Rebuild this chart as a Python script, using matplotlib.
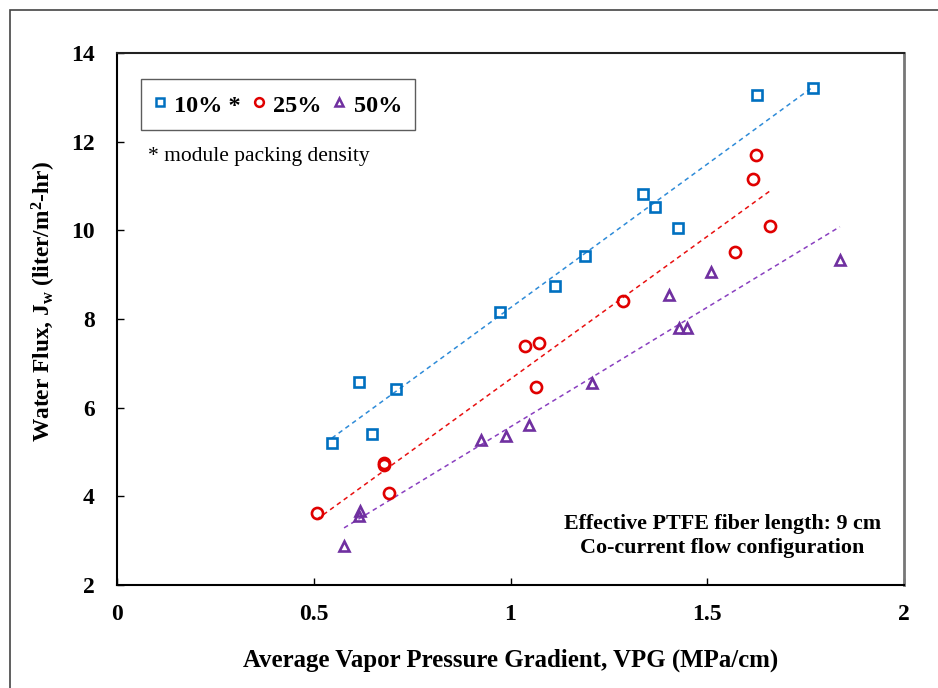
import numpy as np
import matplotlib
matplotlib.use("Agg")
import matplotlib.pyplot as plt
from matplotlib.patches import Rectangle
from matplotlib.lines import Line2D

plt.rcParams['font.family'] = ['Liberation Serif', 'DejaVu Serif']
plt.rcParams['mathtext.fontset'] = 'custom'
plt.rcParams['mathtext.rm'] = 'Liberation Serif'
plt.rcParams['mathtext.bf'] = 'Liberation Serif:bold'
plt.rcParams['mathtext.it'] = 'Liberation Serif:italic'

# ---- data ----
x10 = [0.546, 0.615, 0.648, 0.709, 0.973, 1.113, 1.189, 1.337, 1.367, 1.426, 1.626, 1.769]
y10 = [5.20, 6.58, 5.41, 6.42, 8.16, 8.74, 9.42, 10.82, 10.53, 10.05, 13.05, 13.21]

x25 = [0.507, 0.679, 0.679, 0.691, 1.037, 1.072, 1.065, 1.287, 1.571, 1.659, 1.615, 1.623]
y25 = [3.62, 4.75, 4.70, 4.07, 7.39, 7.45, 6.47, 8.41, 9.51, 10.10, 11.15, 11.69]

x50 = [0.577, 0.618, 0.614, 0.924, 0.988, 1.047, 1.208, 1.403, 1.427, 1.449, 1.509, 1.837]
y50 = [2.88, 3.67, 3.56, 5.27, 5.36, 5.62, 6.56, 8.54, 7.79, 7.80, 9.07, 9.33]

labels = ['10% *', '25%', '50%']
xticks = [0, 0.5, 1, 1.5, 2]
xtick_labels = ['0', '0.5', '1', '1.5', '2']
yticks = [2, 4, 6, 8, 10, 12, 14]

colors = ['#0070C0', '#E00000', '#7030A0']
markers = ['s', 'o', '^']
msizes = [7.6, 8.0, 6.8]
line_colors = ['#2E8BD8', '#E81010', '#8A40C0']

fig = plt.figure(figsize=(9.38, 6.88), dpi=100)
ax = fig.add_axes([117/938, 1-585/688, (904-117)/938, (585-53)/688])

series = [(x10, y10), (x25, y25), (x50, y50)]
for (xs, ys), c, m, ms, lc in zip(series, colors, markers, msizes, line_colors):
    xs = np.array(xs); ys = np.array(ys)
    ax.plot(xs, ys, linestyle='none', marker=m, markersize=ms,
            markerfacecolor='none', markeredgecolor=c, markeredgewidth=1.9, zorder=3)
    k, b = np.polyfit(xs, ys, 1)
    xl = np.array([xs.min(), xs.max()])
    ax.plot(xl, k*xl + b, linestyle=(0, (3, 2.5)), color=lc, linewidth=1.1, zorder=2)

ax.set_xlim(0, 2)
ax.set_ylim(2, 14)
ax.set_xticks(xticks)
ax.set_xticklabels(xtick_labels)
ax.set_yticks(yticks)
ax.tick_params(axis='both', direction='in', length=5, width=1, labelsize=17)
ax.tick_params(axis='y', pad=16)
ax.tick_params(axis='x', pad=14)
for lab in ax.get_xticklabels() + ax.get_yticklabels():
    lab.set_fontweight('bold')

for s in ['left', 'bottom']:
    ax.spines[s].set_linewidth(1.5)
    ax.spines[s].set_color('black')
ax.spines['top'].set_linewidth(1.5)
ax.spines['right'].set_linewidth(2.0)
ax.spines['top'].set_color('#222222')
ax.spines['right'].set_color('#777777')

ax.set_xlabel('Average Vapor Pressure Gradient, VPG (MPa/cm)', fontsize=17.9,
              fontweight='bold')
ax.xaxis.set_label_coords(0.5, -(660-585)/532)
ax.xaxis.label.set_va('center')
ax.set_ylabel(r'Water Flux, J$_\mathbf{w}$ (liter/m$^\mathbf{2}$-hr)', fontsize=16.8,
              fontweight='bold')
ax.yaxis.set_label_coords(-(117-44)/787, (585-302)/532)
ax.yaxis.label.set_va('center')

handles = [Line2D([], [], linestyle='none', marker=m, markersize=(6.3 if m != '^' else 5.8),
                  markerfacecolor='none', markeredgecolor=c, markeredgewidth=1.8)
           for m, c in zip(markers, colors)]
leg = ax.legend(handles, labels, loc='upper left', bbox_to_anchor=(24/787, 1-26/532),
                ncol=3, frameon=True, fancybox=False, edgecolor='#333333',
                prop={'weight': 'bold', 'size': 17.5}, handlelength=0.5,
                handleheight=1.15, handletextpad=0.33, columnspacing=0.5,
                borderpad=0.52, borderaxespad=0)
leg.get_frame().set_linewidth(1.0)

ax.text(31/787, 1-104/532, '* module packing density', transform=ax.transAxes,
        fontsize=15.5, ha='left', va='center')
ax.text(0.769, (585-536)/532, 'Effective PTFE fiber length: 9 cm\nCo-current flow configuration',
        transform=ax.transAxes, fontsize=15.8, fontweight='bold', ha='center',
        va='center', linespacing=1.3)

fig.patches.append(Rectangle((10/938, -0.05), 2, 1.05 - 10/688, transform=fig.transFigure,
                             fill=False, edgecolor='#444444', linewidth=1.2))

fig.savefig('out.png', dpi=100)
